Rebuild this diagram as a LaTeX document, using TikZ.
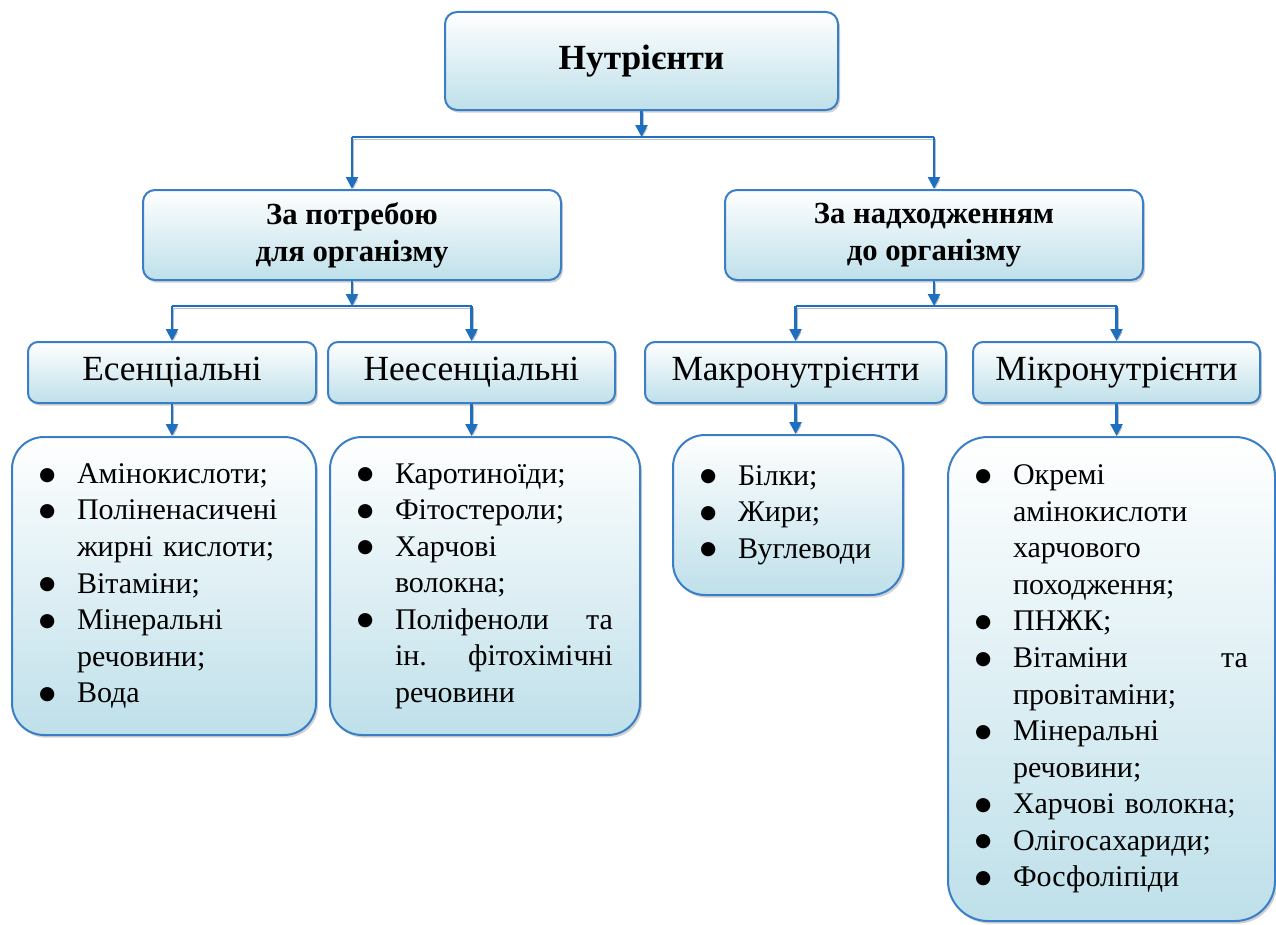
\documentclass[tikz,border=0pt]{standalone}
\usepackage{fontspec}
\setmainfont{Liberation Serif}
\newfontfamily\symf{DejaVu Sans}
\usetikzlibrary{arrows.meta,shadows,calc}
\definecolor{bord}{HTML}{3A7EC6}
\definecolor{fillb}{HTML}{B3DAE6}
\definecolor{conncol}{HTML}{1E6FC0}
\pgfdeclareverticalshading{boxshade}{100bp}{color(0bp)=(fillb); color(25bp)=(fillb!85!white); color(75bp)=(white); color(100bp)=(white)}
\newcommand\lb{\makebox[28.5pt][l]{\raisebox{2.5pt}{\symf\fontsize{14}{14}\selectfont ●}}}
\newcommand\li{\hspace*{28.5pt}}
\begin{document}
\begin{tikzpicture}[x=0.75pt,y=-0.75pt,
  boxbase/.style={draw=bord, line width=1.5pt, shading=boxshade,
    drop shadow={shadow xshift=1.5pt, shadow yshift=-2pt, fill=black!40, opacity=0.45},
    inner sep=0pt, align=center},
  topbox/.style={boxbase, rounded corners=9pt, minimum width=294.75pt, minimum height=73.5pt,
    font=\fontsize{26.5}{30}\selectfont\bfseries},
  catbox/.style={boxbase, rounded corners=9pt, minimum width=313.5pt, minimum height=67.5pt,
    font=\fontsize{23}{27.5}\selectfont\bfseries},
  subbox/.style={boxbase, rounded corners=7.5pt, minimum height=45.75pt,
    font=\fontsize{26.5}{30}\selectfont},
  listbox/.style={boxbase, rounded corners=24pt, align=left, inner xsep=20.25pt, inner ysep=0pt,
    font=\fontsize{22.5}{27.4}\selectfont},
  conn/.style={draw=conncol, line width=1.9pt,
    preaction={draw=black!25, transform canvas={xshift=1pt, yshift=-1.5pt}}},
  arr/.style={conn, -{Triangle[length=9pt,width=9pt]}}
]
\useasboundingbox (0,0) rectangle (1276,924);

\node[topbox] (top) at (641.5,61) {Нутрієнти};

\node[catbox] (need) at (352,235) {За потребою\\для організму};
\node[catbox] (intake) at (934,235) {За надходженням\\до організму};

\node[subbox, minimum width=216pt] (ess) at (172,372.5) {Есенціальні};
\node[subbox, minimum width=215.25pt] (ness) at (471.5,372.5) {Неесенціальні};
\node[subbox, minimum width=225.75pt] (macro) at (795.5,372.5) {Макронутрієнти};
\node[subbox, minimum width=215.25pt] (micro) at (1116.5,372.5) {Мікронутрієнти};

\node[listbox, text width=187.5pt, minimum height=223.5pt] (essl) at (164,586)
{\lb Амінокислоти;\\
 \lb Поліненасичені\\
 \li жирні кислоти;\\
 \lb Вітаміни;\\
 \lb Мінеральні\\
 \li речовини;\\
 \lb Вода};

\node[listbox, text width=192pt, minimum height=223.5pt] (nessl) at (485,586)
{\lb Каротиноїди;\\
 \lb Фітостероли;\\
 \lb Харчові\\
 \li волокна;\\
 \lb\makebox[163.5pt][s]{Поліфеноли\hfill та}\\
 \li\makebox[163.5pt][s]{ін.\hfill фітохімічні}\\
 \li речовини};

\node[listbox, text width=132pt, minimum height=120pt] (macrol) at (788,515)
{\lb Білки;\\
 \lb Жири;\\
 \lb Вуглеводи};

\node[listbox, text width=204.75pt, minimum height=363pt, rounded corners=30pt] (microl) at (1111.5,679)
{\lb Окремі\\
 \li амінокислоти\\
 \li харчового\\
 \li походження;\\
 \lb ПНЖК;\\
 \lb\makebox[176.25pt][s]{Вітаміни\hfill та}\\
 \li провітаміни;\\
 \lb Мінеральні\\
 \li речовини;\\
 \lb Харчові волокна;\\
 \lb Олігосахариди;\\
 \lb Фосфоліпіди};

% level 1 -> 2
\coordinate (j1) at (641.5,137);
\draw[arr] (top.south) -- (top.south |- j1);
\draw[conn] (need.north |- j1) -- (intake.north |- j1);
\draw[arr] (need.north |- j1) -- (need.north);
\draw[arr] (intake.north |- j1) -- (intake.north);

% level 2 -> 3
\coordinate (j2) at (0,306);
\draw[arr] (need.south) -- (need.south |- j2);
\draw[conn] (ess.north |- j2) -- (ness.north |- j2);
\draw[arr] (ess.north |- j2) -- (ess.north);
\draw[arr] (ness.north |- j2) -- (ness.north);

\draw[arr] (intake.south) -- (intake.south |- j2);
\draw[conn] (macro.north |- j2) -- (micro.north |- j2);
\draw[arr] (macro.north |- j2) -- (macro.north);
\draw[arr] (micro.north |- j2) -- (micro.north);

% level 3 -> 4
\draw[arr] (ess.south) -- (ess.south |- essl.north);
\draw[arr] (ness.south) -- (ness.south |- nessl.north);
\draw[arr] (macro.south) -- (macro.south |- macrol.north);
\draw[arr] (micro.south) -- (micro.south |- microl.north);
\end{tikzpicture}
\end{document}
